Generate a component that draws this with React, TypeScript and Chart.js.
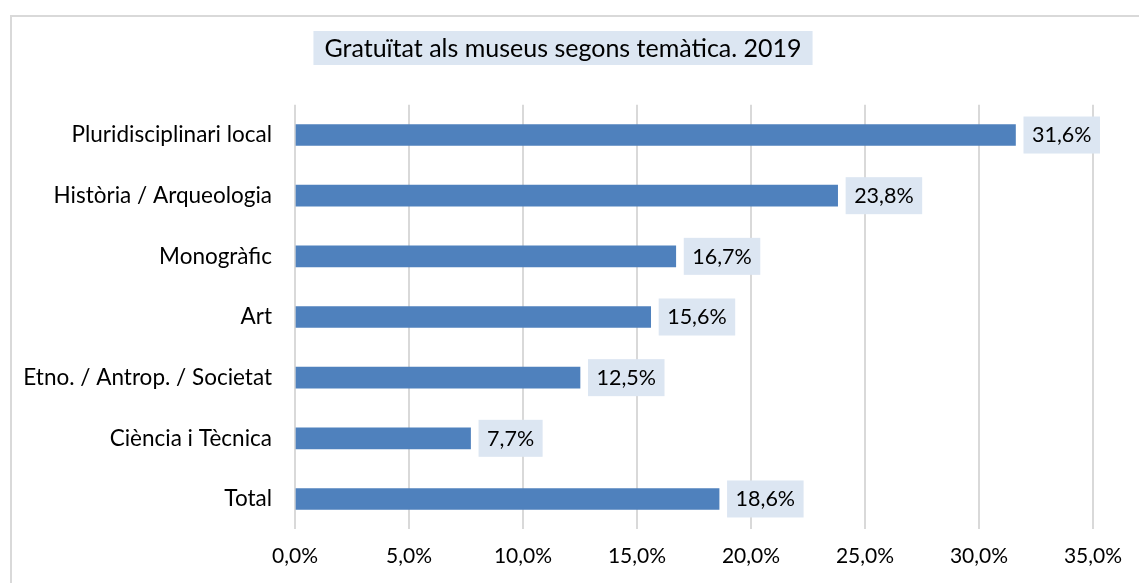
import React, { useEffect, useRef } from "react";
import { Chart, registerables } from "chart.js";

Chart.register(...registerables);

const categories = [
  "Pluridisciplinari local",
  "Història / Arqueologia",
  "Monogràfic",
  "Art",
  "Etno. / Antrop. / Societat",
  "Ciència i Tècnica",
  "Total",
];
const values = [31.6, 23.8, 16.7, 15.6, 12.5, 7.7, 18.6];
const titleText = "Gratuïtat als museus segons temàtica. 2019";
const xMin = 0;
const xMax = 35;
const xStep = 5;

const FONT = "Lato, 'Noto Sans', sans-serif";
const fmt = (v: number) => v.toFixed(1).replace(".", ",") + "%";

const decorPlugin = {
  id: "decor",
  beforeDraw(chart: any) {
    const ctx = chart.ctx;
    ctx.save();
    ctx.fillStyle = "#ffffff";
    ctx.fillRect(0, 0, chart.width, chart.height);
    // outer frame (top and left visible)
    ctx.strokeStyle = "#d9d9d9";
    ctx.lineWidth = 2;
    ctx.beginPath();
    ctx.moveTo(11, chart.height + 5);
    ctx.lineTo(11, 16);
    ctx.lineTo(chart.width + 5, 16);
    ctx.stroke();
    // title box
    ctx.font = `25px ${FONT}`;
    const tw = ctx.measureText(titleText).width;
    const cx = 563;
    const bw = tw + 22;
    ctx.fillStyle = "#dce6f2";
    ctx.fillRect(cx - bw / 2, 31, bw, 34);
    ctx.fillStyle = "#000000";
    ctx.textAlign = "center";
    ctx.textBaseline = "middle";
    ctx.fillText(titleText, cx, 48.5);
    ctx.restore();
  },
  afterDatasetsDraw(chart: any) {
    const ctx = chart.ctx;
    const meta = chart.getDatasetMeta(0);
    ctx.save();
    ctx.font = `21.5px ${FONT}`;
    ctx.textBaseline = "middle";
    ctx.textAlign = "center";
    meta.data.forEach((el: any, i: number) => {
      const label = fmt(values[i]);
      const tw = ctx.measureText(label).width;
      const w = tw + 17;
      const h = 37;
      const x0 = el.x + 8;
      ctx.fillStyle = "#dce6f2";
      ctx.fillRect(x0, el.y - h / 2, w, h);
      ctx.fillStyle = "#000000";
      ctx.fillText(label, x0 + w / 2, el.y + 0.5);
    });
    ctx.restore();
  },
};

export default function App() {
  const ref = useRef<HTMLCanvasElement>(null);
  useEffect(() => {
    document.body.style.margin = "0";
    document.body.style.overflow = "hidden";
    const chart = new Chart(ref.current!, {
      type: "bar",
      data: {
        labels: categories,
        datasets: [
          {
            data: values,
            backgroundColor: "#4f81bd",
            borderWidth: 0,
            barThickness: 21,
          },
        ],
      },
      plugins: [decorPlugin],
      options: {
        indexAxis: "y",
        animation: false,
        responsive: false,
        maintainAspectRatio: false,
        layout: { padding: { top: 104.7, right: 46, bottom: 0, left: 0 } },
        plugins: {
          legend: { display: false },
          title: { display: false },
          tooltip: { enabled: false },
        },
        scales: {
          x: {
            min: xMin,
            max: xMax,
            ticks: {
              stepSize: xStep,
              callback: (v: any) => fmt(Number(v)),
              color: "#000000",
              font: { family: FONT, size: 21 },
              padding: 14,
              maxRotation: 0,
            },
            grid: { color: "#d9d9d9", lineWidth: 2, drawTicks: false },
            border: { display: false },
            afterFit: (s: any) => {
              s.height = 53.7;
            },
          },
          y: {
            ticks: {
              color: "#000000",
              font: { family: FONT, size: 22.5 },
              padding: 23,
            },
            grid: { display: false, drawTicks: false },
            border: { display: false },
            afterFit: (s: any) => {
              s.width = 295;
            },
          },
        },
      },
    });
    return () => chart.destroy();
  }, []);
  return (
    <canvas
      ref={ref}
      width={1139}
      height={583}
      style={{ display: "block", width: 1139, height: 583 }}
    />
  );
}
